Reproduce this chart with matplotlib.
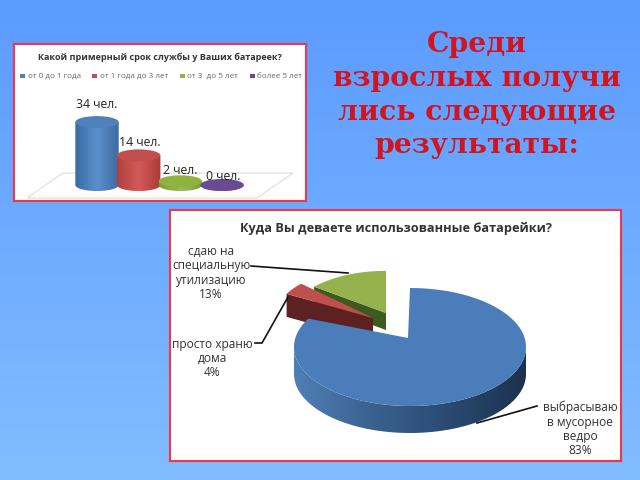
import numpy as np
import matplotlib
matplotlib.use("Agg")
import matplotlib.pyplot as plt
from matplotlib.colors import LinearSegmentedColormap
from matplotlib.patches import Polygon, Rectangle, Ellipse

plt.rcParams['font.family'] = ['Open Sans', 'DejaVu Sans']

heading = ["Среди", "взрослых получи", "лись следующие", "результаты:"]

bar_title = "Какой примерный срок службы у Ваших батареек?"
bar_cats = ["от 0 до 1 года", "от 1 года до 3 лет", "от 3  до 5 лет", "более 5 лет"]
bar_labels = ["34 чел.", "14 чел.", "2 чел.", "0 чел."]
# drawn heights (perspective makes the second one taller than its label)
bar_heights = [34, 16, 2, 0]
bar_top = ["#4f81bd", "#c0504d", "#8fb33f", "#6a4a93"]
bar_side = [["#3a6aa3", "#5a90cc", "#3d6ba2"],
            ["#b04240", "#d25a57", "#aa3a37"],
            ["#7c9c34", "#9bbb59", "#7c9c34"],
            ["#5a3d80", "#7a5ca0", "#5a3d80"]]

pie_title = "Куда Вы деваете использованные батарейки?"
pie_pct = [83, 4, 13]
pie_labels = ["выбрасываю\nв мусорное\nведро\n83%",
              "просто храню\nдома\n4%",
              "сдаю на\nспециальную\nутилизацию\n13%"]
pie_top = ["#4a7dba", "#c0504d", "#94b34c"]
pie_cut = ["#2f5480", "#5c2120", "#3f5a20"]

W, H = 640, 480
RED = "#e8394f"

fig = plt.figure(figsize=(6.4, 4.8), dpi=100)


def px_axes(x0, y0, x1, y1):
    return fig.add_axes([x0 / W, 1 - y1 / H, (x1 - x0) / W, (y1 - y0) / H])


def fill_gradient(ax, patch, colors, extent):
    cmap = LinearSegmentedColormap.from_list("g", colors)
    g = np.linspace(0, 1, 128)[None, :]
    im = ax.imshow(g, cmap=cmap, extent=extent, aspect='auto', origin='lower', zorder=patch.get_zorder())
    im.set_clip_path(patch)


# slide background
bg = fig.add_axes([0, 0, 1, 1])
bg.imshow(np.linspace(0, 1, 256)[:, None], aspect='auto', extent=[0, W, H, 0],
          cmap=LinearSegmentedColormap.from_list("bg", ["#5c9bff", "#82bcff"]))
bg.set_xlim(0, W)
bg.set_ylim(H, 0)
bg.axis('off')

for i, line in enumerate(heading):
    bg.text(477, 45 + i * 33.5, line, color="#d2141e", family="DejaVu Serif", weight='bold',
            fontsize=20.3, ha='center', va='center')

# top panel : cylinders
ax = px_axes(14, 44, 305.5, 200.5)
x_px = 41.7
y_px = 1.85
x0 = 97
y0 = 185


def bx(px):
    return (px - x0) / x_px


def by(px):
    return (y0 - px) / y_px


ax.add_patch(Polygon([[bx(27), by(198)], [bx(63), by(173)], [bx(293), by(173)], [bx(257), by(198)]],
                     closed=True, fc="white", ec="#dddddd", lw=0.8))

bw = 1.04
eh = 6.5
t = np.linspace(np.pi, 2 * np.pi, 60)
for i, h in enumerate(bar_heights):
    low = np.column_stack([i + bw / 2 * np.cos(t), eh / 2 * np.sin(t)])
    up = np.column_stack([low[::-1, 0], np.full(60, h)])
    body = Polygon(np.vstack([low, up]), closed=True, fc='none', ec='none', zorder=3 + i,
                   transform=ax.transData)
    ax.add_patch(body)
    fill_gradient(ax, body, bar_side[i], [i - bw / 2, i + bw / 2, -4, h + 4])
    ax.add_patch(Ellipse((i, h), bw, eh, fc=bar_top[i], ec='none', zorder=3 + i))

label_xy = [(97, 104), (140, 142), (180, 170), (223, 176)]
for (x, y), s in zip(label_xy, bar_labels):
    ax.text(bx(x), by(y), s, ha='center', va='center', fontsize=8.8, color="#222222", zorder=20)

ax.text(0.5, 0.913, bar_title, transform=ax.transAxes, ha='center', va='center', fontsize=6.5,
        weight='bold', color="#333333")
leg_x = [23, 95, 182, 252]
for x, c, name in zip(leg_x, bar_top, bar_cats):
    ax.add_patch(Rectangle((bx(x - 2.5), by(78)), 5 / x_px, 4 / y_px, fc=c, ec='none'))
    ax.text(bx(x + 5), by(76), name, ha='left', va='center', fontsize=5.8, color="#666666")

ax.set_xlim(bx(14), bx(305.5))
ax.set_ylim(by(200.5), by(44))
ax.set_xticks([])
ax.set_yticks([])
for s in ax.spines.values():
    s.set_color(RED)
    s.set_linewidth(1.5)

# bottom panel : exploded 3d pie, unit circle = top face of the biggest slice
pa = px_axes(170, 210, 620.5, 461)
rx, ry = 116.0, 59.0
cx, cy = 410.0, 347.0

offset = [(0, 0), (-37 / rx, 29 / ry), (-24 / rx, 26 / ry)]
vertex_shift = [(-2 / rx, 9 / ry), (0, 0), (0, 8 / ry)]
scale = [1.0, 0.85, 0.85]
thick = [27 / ry, 23 / ry, 17 / ry]
zorders = [8, 5, 3]

# angles run clockwise from 12 o'clock
starts = np.cumsum([0] + pie_pct[:-1]) * 3.6
ends = np.cumsum(pie_pct) * 3.6

for i in [2, 1, 0]:
    a = np.radians(np.linspace(starts[i], ends[i], 120))
    arc = np.column_stack([offset[i][0] + scale[i] * np.sin(a), offset[i][1] + scale[i] * np.cos(a)])
    v = np.array([offset[i][0] + vertex_shift[i][0], offset[i][1] + vertex_shift[i][1]])
    z = zorders[i]
    if i == 0:
        # outer wall, lower half only
        b = np.radians(np.linspace(90, 270, 120))
        rim = np.column_stack([np.sin(b), np.cos(b)])
        wall = Polygon(np.vstack([rim, rim[::-1] - [0, thick[0]]]), closed=True, fc='none', ec='none',
                       zorder=z, transform=pa.transData)
        pa.add_patch(wall)
        fill_gradient(pa, wall, ["#507fb6", "#3a628f", "#2a4a72", "#1c324e"], [-1, 1, -2, 1])
    else:
        # cut face towards the centre
        cut = [arc[0], v, v - [0, thick[i]], arc[0] - [0, thick[i]]]
        pa.add_patch(Polygon(cut, closed=True, fc=pie_cut[i], ec='none', zorder=z))
    pa.add_patch(Polygon(np.vstack([v, arc]), closed=True, fc=pie_top[i], ec='none', zorder=z + 0.5))

leaders = [[(537, 406), (477, 423)],
           [(255, 343), (262, 343), (288, 297)],
           [(251, 266), (348, 273)]]
for pts in leaders:
    pts = np.array(pts, float)
    pa.plot((pts[:, 0] - cx) / rx, (cy - pts[:, 1]) / ry, color="#111111", lw=1.2, zorder=12)

label_pos = [(580, 429), (212, 358.5), (211, 273)]
for (x, y), s in zip(label_pos, pie_labels):
    pa.text((x - cx) / rx, (cy - y) / ry, s, ha='center', va='center', fontsize=8.6, color="#333333",
            linespacing=1.12, zorder=15)

pa.text((395.5 - cx) / rx, (cy - 228) / ry, pie_title, ha='center', va='center', fontsize=9.2,
        weight='bold', color="#333333")

pa.set_xlim((170 - cx) / rx, (620.5 - cx) / rx)
pa.set_ylim((cy - 461) / ry, (cy - 210) / ry)
pa.set_xticks([])
pa.set_yticks([])
for s in pa.spines.values():
    s.set_color(RED)
    s.set_linewidth(1.5)

fig.savefig("out.png", dpi=100)
